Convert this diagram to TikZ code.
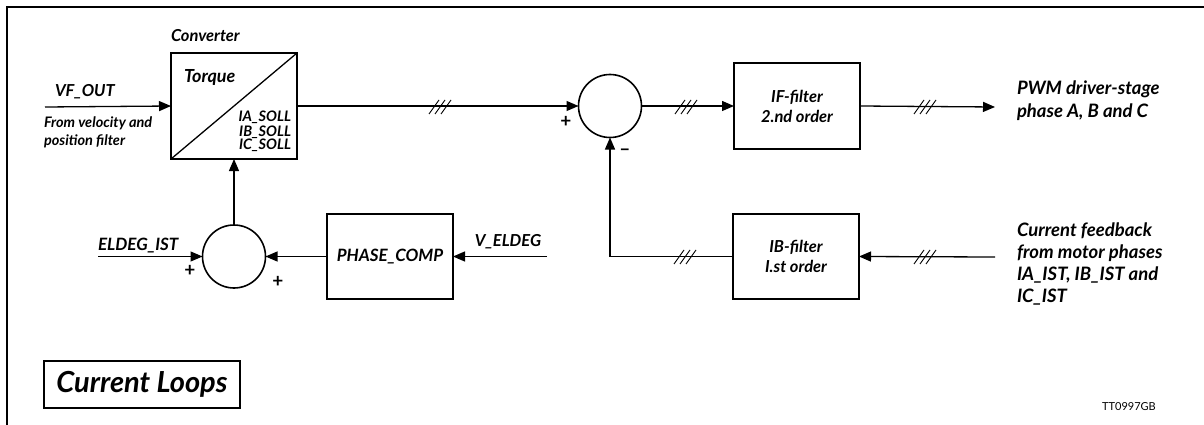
\documentclass[tikz,border=0pt]{standalone}
\usepackage{fontspec}
\setmainfont{Lato}
\usetikzlibrary{arrows.meta}
\newcommand\rlines[1]{\vtop{\halign{\hfil##\cr#1\crcr}}}
\newcommand\clines[1]{\vtop{\halign{\hfil##\hfil\cr#1\crcr}}}
\newcommand\llines[1]{\vtop{\halign{##\hfil\cr#1\crcr}}}
\tikzset{
  every node/.style={inner sep=0pt, outer sep=0pt},
  bi/.style={font=\fontsize{#1}{#1}\selectfont\bfseries\itshape},
  bis/.style 2 args={font=\fontsize{#1}{#2}\selectfont\bfseries\itshape},
  blk/.style={draw, line width=2pt, minimum width=126pt, minimum height=86pt},
  sumc/.style={draw, circle, line width=1.6pt, minimum size=63pt},
  conn/.style={line width=1.3pt, -{Triangle[length=12pt,width=10pt]}},
  wire/.style={line width=1.3pt},
  sign/.style={font=\fontsize{19}{19}\selectfont\bfseries},
  tri/.pic={\draw[line width=0.9pt] (-11,7) -- (-1,-7) (-5,7) -- (5,-7) (1,7) -- (11,-7);}
}
\begin{document}
\begin{tikzpicture}[x=1pt,y=-1pt]
\useasboundingbox (0,0) rectangle (1204,425);
\fill[white] (0,0) rectangle (1204,425);
% frame
\draw[line width=2.8pt] (7,425) -- (7,7) -- (1204,7);

% converter
\node[blk, minimum height=106pt] (conv) at (234,106) {};
\draw[wire] (conv.south west) -- (conv.north east);
\node[bi=16.5, anchor=base west] (convl) at (171,42) {Converter};
\node[bi=18, anchor=base west] (torq) at (184,83) {Torque};
\node[bis={14.5}{14}, anchor=base east] (soll) at (291,122) {\rlines{IA\_SOLL\cr IB\_SOLL\cr IC\_SOLL}};

% inputs left
\coordinate (vfin) at (45,107);
\node[bi=16.5, anchor=base west] (vfl) at (55,97) {VF\_OUT};
\node[bis={14.5}{18}, anchor=base west] (fromv) at (44,128) {\llines{From velocity and\cr position filter}};

% summation 1
\node[sumc] (s1) at (610,106) {};
\node[sign] (p1) at (566,122) {+};
\node[sign] (m1) at (625,152) {--};

% IF filter
\node[blk, bis={16.5}{20}] (iff) at (797,106) {\clines{IF-filter\cr 2.nd order}};
\coordinate (pwm) at (995,107);
\node[bis={18.5}{23}, anchor=base west] (pwml) at (1017,95) {\llines{PWM driver-stage\cr phase A, B and C}};

% IB filter
\node[blk, minimum height=85pt, bis={16.5}{20}] (ibf) at (796,256.5) {\clines{IB-filter\cr I.st order}};
\coordinate (fbin) at (995,257);
\coordinate (corner) at (s1 |- ibf.west);
\node[bis={18.5}{22.3}, anchor=base west] (fbl) at (1017,236) {\llines{Current feedback\cr from motor phases\cr IA\_IST, IB\_IST and\cr IC\_IST}};

% summation 2 and phase comp
\node[sumc] (s2) at (234,256.5) {};
\node[sign] (p2) at (190,271) {+};
\node[sign] (p3) at (278,282) {+};
\node[blk, minimum height=85pt, bi=17] (pc) at (390,256.5) {PHASE\_COMP};
\coordinate (eld) at (98,256.5);
\coordinate (vel) at (547,256.5);
\node[bi=17, anchor=base west] (eldl) at (98,250) {ELDEG\_IST};
\node[bi=16.5, anchor=base] (vell) at (508,246) {V\_ELDEG};

% title box and code
\node[draw, line width=1.6pt, minimum width=196pt, minimum height=47pt, bi=29] (cl) at (142,384.5) {Current Loops};
\node[anchor=base, font=\fontsize{11}{11}\selectfont] (code) at (1129,410) {TT0997GB};

% connectors
\draw[conn] (vfin) -- (conv.west);
\draw[conn] (conv.east) -- (s1.west);
\draw[conn] (s1.east) -- (iff.west);
\draw[conn] (iff.east) -- (pwm);
\draw[conn] (fbin) -- (ibf.east);
\draw[conn] (ibf.west) -- (corner) -- (s1.south);
\draw[conn] (s2.north) -- (conv.south);
\draw[conn] (eld) -- (s2.west);
\draw[conn] (pc.west) -- (s2.east);
\draw[conn] (vel) -- (pc.east);

% bus marks
\pic at (440,107) {tri};
\pic at (686,107) {tri};
\pic at (925,107) {tri};
\pic at (925,257) {tri};
\pic at (685,257) {tri};
\end{tikzpicture}
\end{document}
